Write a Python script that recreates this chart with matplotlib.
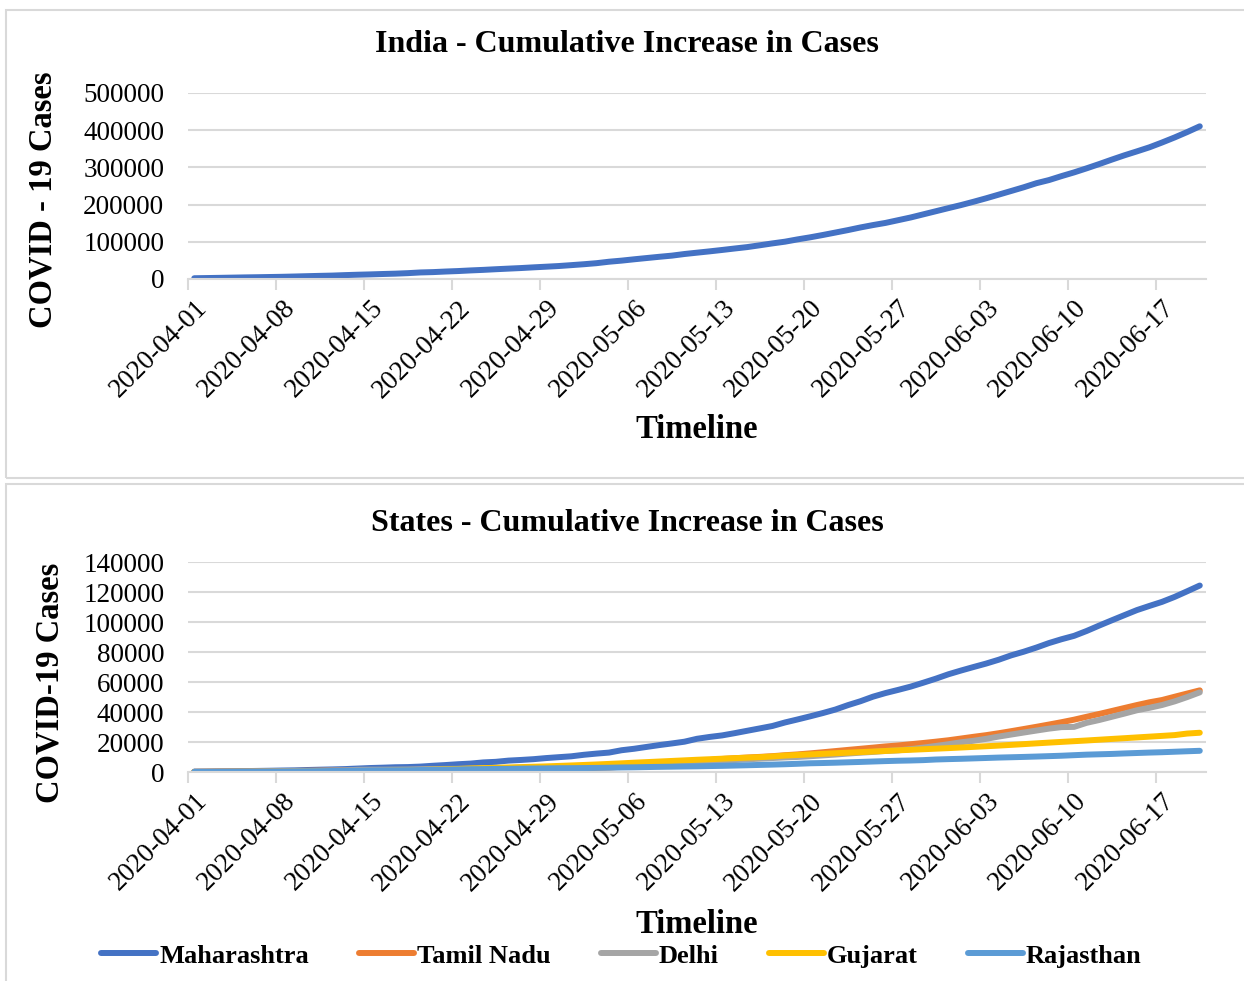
import matplotlib.pyplot as plt
from matplotlib.patches import Rectangle
import pandas as pd

plt.rcParams['font.family'] = ['Liberation Serif', 'DejaVu Serif']

# categories: one per day
dates = list(pd.date_range('2020-04-01', '2020-06-20').strftime('%Y-%m-%d'))

# India cumulative cases
india = [2059, 2545, 3105, 3684, 4289, 4778, 5351, 5916, 6725, 7600,
         8446, 9205, 10453, 11487, 12370, 13430, 14352, 15722, 17615, 18539,
         20080, 21370, 23077, 24530, 26283, 27890, 29451, 31324, 33062, 34863,
         37257, 39699, 42505, 46437, 49400, 52987, 56351, 59695, 62808, 67161,
         70768, 74292, 78055, 81997, 85784, 90648, 95698, 100328, 106475, 112028,
         118226, 124794, 131423, 138536, 144950, 150793, 158086, 165386, 173763, 182143,
         190535, 198706, 207615, 216919, 226770, 236657, 246628, 257486, 265928, 276583,
         286579, 297535, 308993, 320922, 332424, 343091, 354065, 366946, 380532, 395048,
         410451]

# states cumulative cases
maharashtra = [302, 335, 423, 490, 635, 748, 868, 1018, 1135, 1364,
               1574, 1761, 1982, 2334, 2684, 2916, 3202, 3323, 3648, 4200,
               4666, 5218, 5649, 6427, 6817, 7628, 8068, 8590, 9318, 9915,
               10498, 11506, 12296, 12974, 14541, 15525, 16758, 17974, 19063, 20228,
               22171, 23401, 24427, 25922, 27524, 29100, 30706, 33053, 35058, 37136,
               39297, 41642, 44582, 47190, 50231, 52667, 54758, 56948, 59546, 62228,
               65168, 67655, 70013, 72300, 74860, 77793, 80229, 82968, 85975, 88528,
               90787, 94041, 97648, 101141, 104568, 107958, 110744, 113445, 116752, 120504,
               124331]
tamil_nadu = [124, 234, 309, 411, 485, 571, 621, 690, 738, 834,
              911, 969, 1075, 1173, 1204, 1242, 1267, 1323, 1372, 1477,
              1520, 1596, 1629, 1683, 1755, 1821, 1885, 1937, 2058, 2162,
              2323, 2526, 2757, 3023, 3550, 4058, 4829, 5409, 6009, 6535,
              7204, 8002, 8718, 9227, 9674, 10108, 10585, 11224, 11760, 12448,
              13191, 13967, 14753, 15512, 16277, 17082, 17728, 18545, 19372, 20246,
              21184, 22333, 23495, 24586, 25872, 27256, 28694, 30152, 31667, 33229,
              34914, 36841, 38716, 40698, 42687, 44661, 46504, 48019, 50193, 52334,
              54449]
delhi = [120, 152, 219, 386, 445, 503, 525, 576, 669, 720,
         903, 1069, 1154, 1510, 1561, 1578, 1640, 1707, 1893, 2003,
         2081, 2156, 2248, 2376, 2514, 2625, 2918, 3108, 3314, 3439,
         3515, 3738, 4122, 4549, 4898, 5104, 5532, 5980, 6318, 6542,
         6923, 7233, 7639, 7998, 8470, 8895, 9333, 9755, 10054, 10554,
         11088, 11659, 12319, 12910, 13418, 14053, 14465, 15257, 16281, 17386,
         18549, 19844, 20834, 22132, 23645, 25004, 26334, 27654, 28936, 29943,
         30100, 32810, 34687, 36824, 38958, 41182, 42829, 44688, 47102, 49979,
         53116]
gujarat = [74, 82, 95, 105, 122, 144, 165, 175, 186, 241,
           308, 432, 516, 572, 650, 766, 930, 1099, 1376, 1604,
           1851, 2066, 2407, 2624, 2815, 3071, 3301, 3548, 3774, 4082,
           4395, 4721, 5054, 5428, 5804, 6245, 6625, 7013, 7403, 7797,
           8195, 8542, 8903, 9267, 9592, 9931, 10380, 10989, 11379, 11745,
           12140, 12539, 12910, 13273, 13669, 14063, 14468, 14829, 15205, 15572,
           15944, 16356, 16779, 17200, 17632, 18117, 18609, 19119, 19617, 20097,
           20574, 21044, 21554, 22067, 22562, 23079, 23590, 24104, 24628, 25660,
           26198]
rajasthan = [93, 120, 167, 200, 253, 274, 328, 348, 381, 463,
             561, 700, 804, 873, 1005, 1076, 1131, 1229, 1351, 1478,
             1576, 1735, 1890, 1964, 2083, 2141, 2262, 2364, 2438, 2556,
             2584, 2666, 2772, 2886, 3061, 3158, 3317, 3453, 3579, 3708,
             3814, 3988, 4126, 4328, 4534, 4747, 4960, 5202, 5507, 5845,
             6015, 6227, 6494, 6742, 7028, 7300, 7536, 7703, 7947, 8365,
             8617, 8831, 9100, 9373, 9652, 9862, 10084, 10331, 10599, 10876,
             11245, 11600, 11838, 12068, 12401, 12694, 12981, 13216, 13542, 13857,
             14156]

state_names = ['Maharashtra', 'Tamil Nadu', 'Delhi', 'Gujarat', 'Rajasthan']
state_data = [maharashtra, tamil_nadu, delhi, gujarat, rajasthan]
state_colors = ['#4472C4', '#ED7D31', '#A5A5A5', '#FFC000', '#5B9BD5']

GRID = '#D9D9D9'
x = list(range(len(dates)))

fig = plt.figure(figsize=(12.44, 9.81), dpi=100)

# chart area borders
fig.patches.append(Rectangle((0.0048, 0.5127), 1.2, 0.4771, transform=fig.transFigure,
                             fill=False, ec=GRID, lw=1.5))
fig.patches.append(Rectangle((0.0048, -0.2), 1.2, 0.7066, transform=fig.transFigure,
                             fill=False, ec=GRID, lw=1.5))


def style_axes(ax, ymax, ystep):
    ax.set_xlim(-0.5, len(dates) - 0.5)
    ax.set_ylim(0, ymax)
    ax.set_yticks(range(0, ymax + 1, ystep))
    ax.grid(axis='y', color=GRID, lw=1.5)
    ax.set_axisbelow(True)
    for s in ['left', 'right', 'top']:
        ax.spines[s].set_visible(False)
    ax.spines['bottom'].set_color(GRID)
    ax.spines['bottom'].set_linewidth(1.5)
    ax.set_xticks(x[::7])
    ax.set_xticklabels(dates[::7], rotation=45, ha='right', rotation_mode='anchor')
    ax.set_xticks([i - 0.5 for i in x[::7]], minor=True)
    ax.tick_params(axis='x', which='major', length=0, pad=12, labelsize=19.5)
    ax.tick_params(axis='x', which='minor', length=8, color=GRID, width=1.5)
    ax.tick_params(axis='y', length=0, pad=17, labelsize=19.5)


# top: India
ax1 = fig.add_axes([0.1511, 0.7156, 0.8184, 0.1896])
ax1.plot(x, india, color='#4472C4', lw=4.3, solid_capstyle='round')
style_axes(ax1, 500000, 100000)
fig.text(0.504, 0.9551, 'India - Cumulative Increase in Cases', ha='center', va='center',
         fontsize=23, fontweight='bold')
fig.text(0.0346, 0.796, 'COVID - 19 Cases', ha='center', va='center', rotation=90,
         fontsize=23.5, fontweight='bold')
fig.text(0.5603, 0.5617, 'Timeline', ha='center', va='center', fontsize=23.5, fontweight='bold')

# bottom: states
ax2 = fig.add_axes([0.1511, 0.2130, 0.8184, 0.2141])
for name, vals, c in zip(state_names, state_data, state_colors):
    ax2.plot(x, vals, color=c, lw=4.3, solid_capstyle='round', label=name)
style_axes(ax2, 140000, 20000)
fig.text(0.504, 0.4659, 'States - Cumulative Increase in Cases', ha='center', va='center',
         fontsize=23, fontweight='bold')
fig.text(0.0402, 0.3038, 'COVID-19 Cases', ha='center', va='center', rotation=90,
         fontsize=23.5, fontweight='bold')
fig.text(0.5603, 0.0581, 'Timeline', ha='center', va='center', fontsize=23.5, fontweight='bold')

fig.legend(loc='center', bbox_to_anchor=(0.4995, 0.0255), ncol=5, frameon=False,
           prop={'size': 19, 'weight': 'bold'}, handlelength=2.1, handletextpad=0.1,
           columnspacing=1.9, borderpad=0)

fig.savefig('out.png', dpi=100)
